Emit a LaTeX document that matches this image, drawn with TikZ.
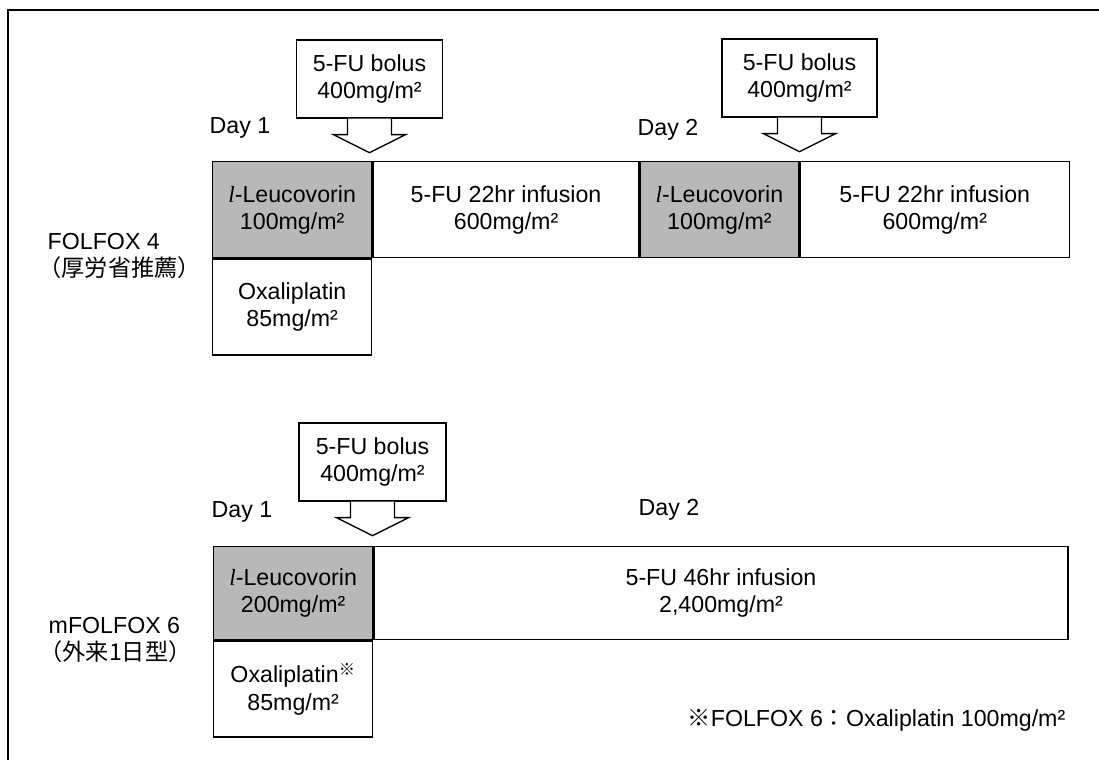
\documentclass[tikz,border=0pt]{standalone}
\usepackage{fontspec}
\setmainfont{Liberation Sans}
\newfontfamily\jpfont{Noto Sans CJK JP}
\newfontfamily\lserif{Liberation Serif}
\usepackage{tikz}
\usetikzlibrary{calc, positioning}
\definecolor{leuc}{HTML}{B8B8B8}
\newcommand{\lLeu}{{\lserif\itshape l}-Leucovorin}
\newcommand{\kome}{{\jpfont ※}}

\begin{document}
\begin{tikzpicture}[x=0.02cm, y=-0.02cm, font=\fontsize{13.2}{15.4}\selectfont, line width=0.8pt,
    cell/.style={draw, anchor=north west, align=center, inner sep=0pt, minimum height=1.92cm},
    leu/.style={cell, fill=leuc, minimum width=3.18cm},
    bolus/.style={draw, fill=white, align=center, inner sep=0pt, minimum width=2.92cm, minimum height=1.56cm},
    lab/.style={align=left, anchor=west, inner sep=0pt}]
  \useasboundingbox (0,0) rectangle (1099,760);
  \draw (8,760) -- (8,10) -- (1099,10);
  % FOLFOX 4
  \node[leu] (leu1) at (212,161) {\lLeu\\100mg/m²};
  \node[cell, minimum width=5.32cm] (inf1) at (leu1.north east) {5-FU 22hr infusion\\600mg/m²};
  \node[leu, minimum width=3.16cm] (leu2) at (inf1.north east) {\lLeu\\100mg/m²};
  \node[cell, minimum width=5.40cm] (inf2) at (leu2.north east) {5-FU 22hr infusion\\600mg/m²};
  \node[cell, minimum width=3.18cm] (oxa1) at (leu1.south west) {Oxaliplatin\\85mg/m²};
  \node[bolus] (bol1) at (369.5,79) {5-FU bolus\\400mg/m²};
  \node[bolus, minimum width=3.1cm] (bol2) at (799.5,78) {5-FU bolus\\400mg/m²};
  \node (d1a) at (240,128) {Day 1}; \node (d2a) at (668,130) {Day 2};
  \node[lab] (reg1) at (47,256) {FOLFOX 4\\\hspace*{-0.4em}{\jpfont （厚労省推薦）}};
  % mFOLFOX 6
  \node[leu, minimum height=1.86cm] (leu3) at (213,546) {\lLeu\\200mg/m²};
  \node[cell, minimum width=13.88cm, minimum height=1.86cm] (inf3) at (leu3.north east) {5-FU 46hr infusion\\2,400mg/m²};
  \node[cell, minimum width=3.18cm] (oxa3) at (leu3.south west) {Oxaliplatin\textsuperscript{\kome}\\85mg/m²};
  \node[bolus, minimum width=2.94cm] (bol3) at (372.5,462) {5-FU bolus\\400mg/m²};
  \node (d1b) at (242,512) {Day 1}; \node (d2b) at (669,510) {Day 2};
  \node[lab] (reg2) at (48,640) {mFOLFOX 6\\\hspace*{-0.4em}{\jpfont （外来1日型）}};
  \node[anchor=east, inner sep=0pt] (note) at (1066,720) {\kome FOLFOX 6{\jpfont ：}Oxaliplatin 100mg/m²};
  \foreach \b in {bol1, bol2, bol3}
    \draw[fill=white] ($(\b.south)+(-22,0)$) -- ++(0,16) -- ++(-14,0) -- ($(\b.south)+(0,34)$)
      -- ($(\b.south)+(36,16)$) -- ++(-14,0) -- ++(0,-16);
\end{tikzpicture}
\end{document}
